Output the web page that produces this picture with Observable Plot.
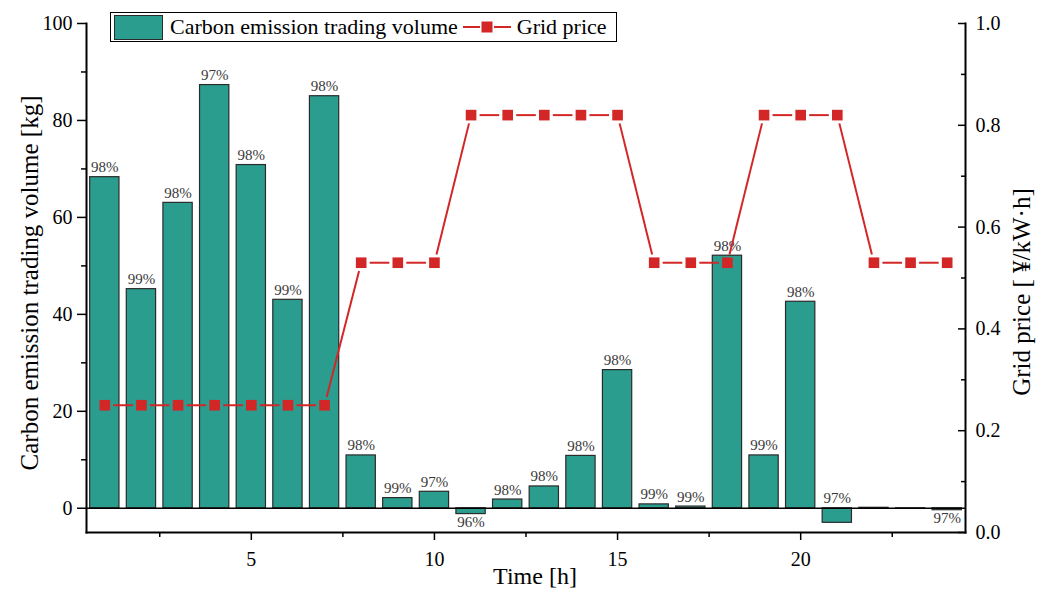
<!DOCTYPE html>
<html>
<head>
<meta charset="utf-8">
<script src="https://cdn.jsdelivr.net/npm/d3@7"></script>
<script src="https://cdn.jsdelivr.net/npm/@observablehq/plot@0.6"></script>
<style>
  body { margin: 0; background: #fff; font-family: 'Liberation Serif', 'Times New Roman', serif; }
  #wrap { position: relative; width: 1045px; height: 595px; }
  #wrap svg text { font-family: 'Liberation Serif', 'Times New Roman', serif; }
  .legend {
    position: absolute; left: 110px; top: 12px; width: 505px; height: 28px;
    border: 1px solid #000; background: #fff; display: flex; align-items: center;
    font-size: 22px; color: #000; box-sizing: content-box; white-space: nowrap;
  }
  .legend .bar-swatch {
    display: inline-block; width: 47px; height: 23px; margin: 0 7px 0 3px;
    background: #2a9d8f; border: 1px solid #2b2b2b;
  }
  .legend svg { margin: 0 6px 0 5px; }
</style>
</head>
<body>
<div id="wrap"></div>
<script>
// Hourly carbon emission trading volume (kg), grid price (¥/kW·h) and the share labels above the bars
const hours = [1, 2, 3, 4, 5, 6, 7, 8, 9, 10, 11, 12, 13, 14, 15, 16, 17, 18, 19, 20, 21, 22, 23, 24];
const tradingVolume = [68.3, 45.2, 63.0, 87.3, 70.8, 43.0, 85.0, 10.9, 2.1, 3.4, -1.2, 1.8, 4.5, 10.8, 28.5, 0.8, 0.35, 52.1, 10.9, 42.6, -3.0, 0.1, -0.1, -0.4];
const gridPrice = [0.25, 0.25, 0.25, 0.25, 0.25, 0.25, 0.25, 0.53, 0.53, 0.53, 0.82, 0.82, 0.82, 0.82, 0.82, 0.53, 0.53, 0.53, 0.82, 0.82, 0.82, 0.53, 0.53, 0.53];
const shareLabels = ["98%", "99%", "98%", "97%", "98%", "99%", "98%", "98%", "99%", "97%", "96%", "98%", "98%", "98%", "98%", "99%", "99%", "98%", "99%", "98%", "97%", null, null, "97%"];
// hours whose share label hangs under the bar
const labelsBelow = [11, 24];

const xTicks = [5, 10, 15, 20];
const xMinorTicks = [2.5, 7.5, 12.5, 17.5, 22.5];
const volumeTicks = [0, 20, 40, 60, 80, 100];
const volumeMinorTicks = [10, 30, 50, 70, 90];
const priceTicks = [0, 0.2, 0.4, 0.6, 0.8, 1.0];
const priceMinorTicks = [0.1, 0.3, 0.5, 0.7, 0.9];

const volumeDomain = [-5, 100];
const priceDomain = [0, 1];
const hourDomain = [0.5, 24.5];

const TEAL = "#2a9d8f";
const RED = "#d32626";
const FONT = "'Liberation Serif', 'Times New Roman', serif";

// price is drawn on the same vertical scale as the volume: map [0,1] onto [-5,100]
const priceToY = p => volumeDomain[0] + (p - priceDomain[0]) / (priceDomain[1] - priceDomain[0]) * (volumeDomain[1] - volumeDomain[0]);
const yToPrice = y => priceDomain[0] + (y - volumeDomain[0]) / (volumeDomain[1] - volumeDomain[0]) * (priceDomain[1] - priceDomain[0]);

const rows = hours.map((h, i) => ({
  hour: h,
  volume: tradingVolume[i],
  price: gridPrice[i],
  priceY: priceToY(gridPrice[i]),
  label: shareLabels[i],
  below: labelsBelow.includes(h)
}));
const segments = rows.slice(1).map((r, i) => ({x1: rows[i].hour, y1: rows[i].priceY, x2: r.hour, y2: r.priceY}));

// line segments stop short of the square markers, leaving a small gap
const markerGap = 8.5;
function gappedRender(index, scales, values, dims, ctx, next) {
  const g = next(index, scales, values, dims, ctx);
  d3.select(g).selectAll("path").each(function (_, j) {
    const i = index[j];
    const ax = values.x1[i], ay = values.y1[i], bx = values.x2[i], by = values.y2[i];
    const len = Math.hypot(bx - ax, by - ay);
    const ux = (bx - ax) / len, uy = (by - ay) / len;
    d3.select(this).attr("d", `M${ax + ux * markerGap},${ay + uy * markerGap}L${bx - ux * markerGap},${by - uy * markerGap}`);
  });
  return g;
}

const chart = Plot.plot({
  width: 1045,
  height: 595,
  marginLeft: 86,
  marginRight: 80,
  marginTop: 23,
  marginBottom: 63,
  style: {fontFamily: FONT, fontSize: "20px", color: "#000", background: "#fff"},
  x: {domain: hourDomain},
  y: {domain: volumeDomain},
  marks: [
    Plot.rect(rows, {
      x1: d => d.hour - 0.4, x2: d => d.hour + 0.4,
      y1: 0, y2: "volume",
      fill: TEAL, stroke: "#2b2b2b", strokeWidth: 1.2
    }),
    Plot.text(rows.filter(d => d.label && !d.below), {
      x: "hour", y: d => Math.max(d.volume, 0), text: "label",
      lineAnchor: "bottom", dy: -5, fontSize: 15, fill: "#3a3a3a", fontFamily: FONT
    }),
    Plot.text(rows.filter(d => d.label && d.below), {
      x: "hour", y: "volume", text: "label",
      lineAnchor: "top", dy: 2, fontSize: 15, fill: "#3a3a3a", fontFamily: FONT
    }),
    Plot.ruleY([0], {stroke: "#000", strokeWidth: 1.5}),
    Plot.link(segments, {x1: "x1", y1: "y1", x2: "x2", y2: "y2", stroke: RED, strokeWidth: 2, render: gappedRender}),
    Plot.dot(rows, {x: "hour", y: "priceY", symbol: "square", r: 6, fill: RED, stroke: null}),
    // left axis
    Plot.axisY(volumeTicks, {anchor: "left", tickSize: 9, tickPadding: 5, strokeWidth: 1.5, label: null, fontSize: 20, fontFamily: FONT}),
    Plot.axisY(volumeMinorTicks, {anchor: "left", tickSize: 5, tickFormat: () => "", strokeWidth: 1.5, label: null}),
    // right axis (grid price), ticks pointing inward
    Plot.axisY(priceTicks.map(priceToY), {anchor: "right", tickSize: -8, tickPadding: 18, strokeWidth: 1.5, label: null, fontSize: 20, fontFamily: FONT,
      tickFormat: d => yToPrice(d).toFixed(1)}),
    Plot.axisY(priceMinorTicks.map(priceToY), {anchor: "right", tickSize: -5, tickFormat: () => "", strokeWidth: 1.5, label: null}),
    // bottom axis
    Plot.axisX(xTicks, {anchor: "bottom", tickSize: 8, tickPadding: 11, strokeWidth: 1.5, label: null, fontSize: 20, fontFamily: FONT}),
    Plot.axisX(xMinorTicks, {anchor: "bottom", tickSize: 5, tickFormat: () => "", strokeWidth: 1.5, label: null}),
    Plot.frame({anchor: "left", strokeWidth: 2}),
    Plot.frame({anchor: "right", strokeWidth: 2}),
    Plot.frame({anchor: "bottom", strokeWidth: 2}),
    // axis titles
    Plot.text(["Carbon emission trading volume [kg]"], {frameAnchor: "left", textAnchor: "middle", rotate: -90, dx: -57, dy: 5, fontSize: 25, fill: "#000", fontFamily: FONT}),
    Plot.text(["Grid price [ ¥/kW·h]"], {frameAnchor: "right", textAnchor: "middle", rotate: -90, dx: 56, dy: 14, fontSize: 25, fill: "#000", fontFamily: FONT}),
    Plot.text(["Time [h]"], {frameAnchor: "bottom", dx: 9, dy: 51, fontSize: 24, fill: "#000", fontFamily: FONT})
  ]
});

const wrap = document.getElementById("wrap");
wrap.appendChild(chart);

// legend box drawn over the top of the plot area
const legend = document.createElement("div");
legend.className = "legend";
legend.innerHTML = `
  <span class="bar-swatch"></span><span>Carbon emission trading volume</span>
  <svg width="48" height="14" viewBox="0 0 48 14">
    <line x1="0" y1="7" x2="17" y2="7" stroke="${RED}" stroke-width="2"></line>
    <line x1="31" y1="7" x2="48" y2="7" stroke="${RED}" stroke-width="2"></line>
    <rect x="18.5" y="1.5" width="11" height="11" fill="${RED}"></rect>
  </svg><span>Grid price</span>`;
wrap.appendChild(legend);
</script>
</body>
</html>
